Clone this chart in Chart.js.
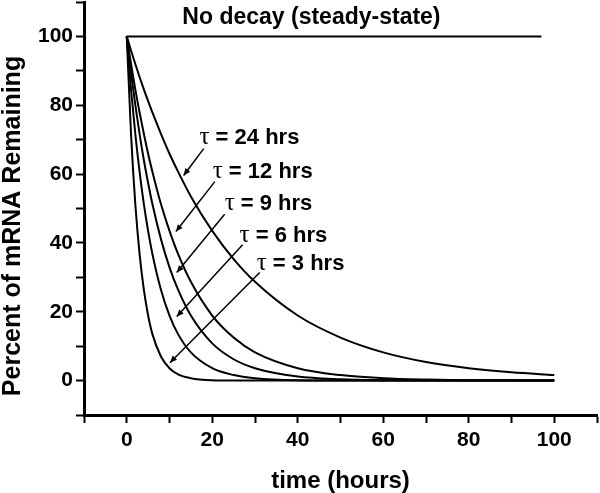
<!DOCTYPE html>
<html>
<head>
<meta charset="utf-8">
<script src="https://cdn.jsdelivr.net/npm/chart.js@4.4.0/dist/chart.umd.min.js"></script>
<style>
  html, body { margin: 0; padding: 0; background: #fff; }
  #wrap { width: 600px; height: 493px; }
</style>
</head>
<body>
<div id="wrap"><canvas id="decayChart" width="600" height="493"></canvas></div>
<script>
// values (percent of mRNA remaining)
const hours = [0, 1, 2, 3, 4, 5, 6, 8, 10, 12, 15, 20, 25, 30, 40, 50, 60, 70, 80, 90, 100];
const tau24 = [100, 95.9, 92.0, 88.2, 84.6, 81.2, 77.9, 71.7, 65.9, 60.7, 53.5, 43.5, 35.3, 28.7, 18.9, 12.5, 8.2, 5.4, 3.6, 2.4, 1.6];
const tau12 = [100, 92.0, 84.6, 77.9, 71.7, 65.9, 60.7, 51.3, 43.5, 36.8, 28.7, 18.9, 12.5, 8.2, 3.6, 1.6, 0.7, 0.3, 0.1, 0.1, 0];
const tau9  = [100, 89.5, 80.1, 71.7, 64.1, 57.4, 51.3, 41.1, 32.9, 26.4, 18.9, 10.8, 6.2, 3.6, 1.2, 0.4, 0.1, 0, 0, 0, 0];
const tau6  = [100, 84.6, 71.7, 60.7, 51.3, 43.5, 36.8, 26.4, 18.9, 13.5, 8.2, 3.6, 1.6, 0.7, 0.1, 0, 0, 0, 0, 0, 0];
const tau3  = [100, 71.7, 51.3, 36.8, 26.4, 18.9, 13.5, 7.0, 3.6, 1.8, 0.7, 0.1, 0, 0, 0, 0, 0, 0, 0, 0, 0];
const steadyHours = [0, 97];
const steadyValues = [100, 100];

const tauNames = ['24', '12', '9', '6', '3'];
const tickLabels = [0, 20, 40, 60, 80, 100];

const SANS = "'Liberation Sans', Arial, sans-serif";
const SERIF = "'Liberation Serif', 'Times New Roman', serif";

function toPoints(xs, ys) {
    return xs.map((x, i) => ({ x: x, y: ys[i] }));
}

function lineSet(label, xs, ys) {
    return {
        label: label,
        data: toPoints(xs, ys),
        borderColor: '#000',
        borderWidth: 2,
        pointRadius: 0,
        fill: false,
        cubicInterpolationMode: 'monotone'
    };
}

// label + arrow positions, in data units
const notes = [
    { text: tauNames[0], at: [17.0, 70.9], from: [18.0, 67.4], to: [13.3, 59.6] },
    { text: tauNames[1], at: [20.1, 60.8], from: [20.6, 57.8], to: [11.5, 43.3] },
    { text: tauNames[2], at: [22.9, 51.7], from: [22.9, 48.3], to: [11.7, 31.4] },
    { text: tauNames[3], at: [26.4, 42.4], from: [27.1, 39.5], to: [11.7, 18.6] },
    { text: tauNames[4], at: [30.4, 34.3], from: [31.1, 31.4], to: [10.1, 5.2] }
];

const annotatePlugin = {
    id: 'annotate',
    afterDatasetsDraw(chart) {
        const ctx = chart.ctx;
        const xs = chart.scales.x, ys = chart.scales.y;
        const px = v => xs.getPixelForValue(v);
        const py = v => ys.getPixelForValue(v);
        ctx.save();
        ctx.fillStyle = '#000';
        ctx.strokeStyle = '#000';

        // steady-state label
        ctx.font = 'bold 23px ' + SANS;
        ctx.textAlign = 'center';
        ctx.textBaseline = 'middle';
        ctx.fillText('No decay (steady-state)', px(43.2), py(105.5));

        // y axis title, drawn by hand to sit a bit low like the original
        ctx.save();
        ctx.translate(13, 226);
        ctx.rotate(-Math.PI / 2);
        ctx.font = 'bold 25px ' + SANS;
        ctx.fillText('Percent of mRNA Remaining', 0, 0);
        ctx.restore();

        notes.forEach(n => {
            const x0 = px(n.from[0]), y0 = py(n.from[1]);
            const x1 = px(n.to[0]), y1 = py(n.to[1]);
            ctx.lineWidth = 1.5;
            ctx.beginPath();
            ctx.moveTo(x0, y0);
            ctx.lineTo(x1, y1);
            ctx.stroke();
            // arrow head
            const a = Math.atan2(y1 - y0, x1 - x0);
            const len = 7, wid = 3;
            ctx.beginPath();
            ctx.moveTo(x1, y1);
            ctx.lineTo(x1 - len * Math.cos(a) + wid * Math.sin(a), y1 - len * Math.sin(a) - wid * Math.cos(a));
            ctx.lineTo(x1 - len * Math.cos(a) - wid * Math.sin(a), y1 - len * Math.sin(a) + wid * Math.cos(a));
            ctx.closePath();
            ctx.fill();

            // label: tau in serif, rest bold sans
            const lx = px(n.at[0]), ly = py(n.at[1]);
            ctx.textAlign = 'left';
            ctx.textBaseline = 'alphabetic';
            ctx.font = '25px ' + SERIF;
            ctx.fillText('\u03C4', lx, ly + 7);
            const w = ctx.measureText('\u03C4').width;
            ctx.font = 'bold 22px ' + SANS;
            ctx.fillText(' = ' + n.text + ' hrs', lx + w, ly + 7);
        });
        ctx.restore();
    }
};

function axisOpts() {
    return {
        type: 'linear',
        min: -10,
        max: 110,
        border: { display: true, color: '#000', width: 3 },
        grid: {
            display: true,
            drawOnChartArea: false,
            drawTicks: true,
            tickLength: 8,
            tickColor: '#000',
            tickWidth: 2
        },
        ticks: {
            stepSize: 10,
            autoSkip: false,
            maxRotation: 0,
            color: '#000',
            font: { family: SANS, size: 21, weight: 'bold' },
            callback: v => tickLabels.includes(v) ? String(v) : ''
        }
    };
}

const xOpts = axisOpts();
xOpts.position = 'bottom';
xOpts.ticks.padding = 5;
xOpts.title = {
    display: true,
    text: 'time (hours)',
    color: '#000',
    font: { family: SANS, size: 24, weight: 'bold', lineHeight: 1.0 },
    padding: 0
};
xOpts.afterFit = s => { s.height = 78; s.paddingLeft = 0; s.paddingRight = 0; };

const yOpts = axisOpts();
yOpts.position = 'left';
yOpts.ticks.padding = 3;
yOpts.afterFit = s => { s.width = 84; s.paddingTop = 0; s.paddingBottom = 0; };

new Chart(document.getElementById('decayChart').getContext('2d'), {
    type: 'line',
    data: {
        datasets: [
            lineSet('steady', steadyHours, steadyValues),
            lineSet('tau24', hours, tau24),
            lineSet('tau12', hours, tau12),
            lineSet('tau9', hours, tau9),
            lineSet('tau6', hours, tau6),
            lineSet('tau3', hours, tau3)
        ]
    },
    options: {
        responsive: false,
        animation: false,
        layout: { padding: { top: 2, right: 3, bottom: 0, left: 0 } },
        scales: { x: xOpts, y: yOpts },
        plugins: {
            legend: { display: false },
            tooltip: { enabled: false }
        }
    },
    plugins: [annotatePlugin]
});
</script>
</body>
</html>
